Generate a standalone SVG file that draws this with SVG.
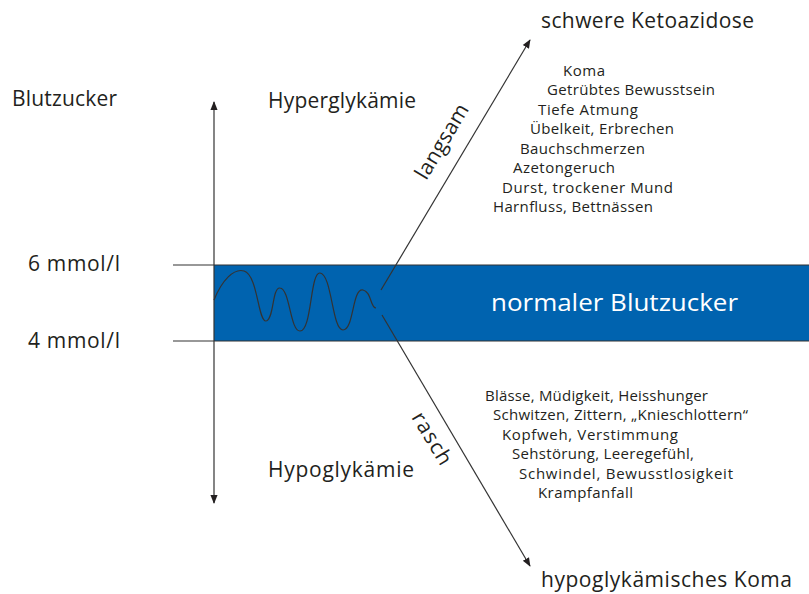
<svg xmlns="http://www.w3.org/2000/svg" width="809" height="594" viewBox="0 0 809 594">
<defs>
<style>
text{font-family:"Open Sans","Liberation Sans",sans-serif;fill:#231f20}
.big{font-size:21px}
.sym{font-size:15px}
.line{stroke:#333;stroke-width:1.2;fill:none}
</style>
<marker id="ah" viewBox="0 0 10 10" refX="9" refY="5" markerWidth="9" markerHeight="9" orient="auto-start-reverse" markerUnits="userSpaceOnUse">
<path d="M0,1 L10,5 L0,9 z" fill="#231f20"/>
</marker>
</defs>
<rect width="809" height="594" fill="#fff"/>
<g id="band">
<rect x="214" y="265" width="595" height="76" fill="#0063af"/>
<text x="491" y="311" style="font-size:24px;fill:#fff" textLength="247" lengthAdjust="spacingAndGlyphs">normaler Blutzucker</text>
</g>
<g id="connectors">
<line class="line" x1="173" y1="265" x2="809" y2="265"/>
<line class="line" x1="173" y1="341" x2="809" y2="341"/>
<line class="line" x1="214" y1="102" x2="214" y2="503" marker-start="url(#ah)" marker-end="url(#ah)"/>
<path class="line" d="M214,300 C222,280 234,268 244,271 C258,275 258,322 266,321 C274,320 272,287 280,288 C290,289 290,331 300,331 C312,331 310,272 320,273 C332,274 332,330 343,330 C354,330 352,288 363,290 C372,292 370,308 376,308"/>
<line class="line" x1="381" y1="290" x2="530" y2="40" marker-end="url(#ah)"/>
<line class="line" x1="382" y1="315" x2="530" y2="566" marker-end="url(#ah)"/>
</g>
<g id="labels">
<text class="big" x="12" y="106" textLength="105">Blutzucker</text>
<text class="big" x="28" y="271" textLength="92">6 mmol/l</text>
<text class="big" x="28" y="348" textLength="92">4 mmol/l</text>
<text class="big" x="268" y="108" textLength="148">Hyperglykämie</text>
<text class="big" x="268" y="477" textLength="146">Hypoglykämie</text>
<text class="big" text-anchor="middle" transform="translate(448,145) rotate(-59)" textLength="84">langsam</text>
<text class="big" text-anchor="middle" transform="translate(426,442) rotate(59)" textLength="58">rasch</text>
</g>
<g id="ketoazidose">
<text class="big" x="541" y="28" textLength="213">schwere Ketoazidose</text>
<text class="sym" x="563" y="76" textLength="42">Koma</text>
<text class="sym" x="547" y="95" textLength="168">Getrübtes Bewusstsein</text>
<text class="sym" x="538" y="115" textLength="100">Tiefe Atmung</text>
<text class="sym" x="530" y="134" textLength="144">Übelkeit, Erbrechen</text>
<text class="sym" x="520" y="154" textLength="125">Bauchschmerzen</text>
<text class="sym" x="513" y="173" textLength="102">Azetongeruch</text>
<text class="sym" x="502" y="193" textLength="171">Durst, trockener Mund</text>
<text class="sym" x="493" y="212" textLength="160">Harnfluss, Bettnässen</text>
</g>
<g id="koma">
<text class="big" x="541" y="587" textLength="251">hypoglykämisches Koma</text>
<text class="sym" x="485" y="401" textLength="223">Blässe, Müdigkeit, Heisshunger</text>
<text class="sym" x="493" y="420" textLength="255">Schwitzen, Zittern, „Knieschlottern“</text>
<text class="sym" x="502" y="440" textLength="176">Kopfweh, Verstimmung</text>
<text class="sym" x="512" y="459" textLength="182">Sehstörung, Leeregefühl,</text>
<text class="sym" x="519" y="479" textLength="214">Schwindel, Bewusstlosigkeit</text>
<text class="sym" x="538" y="498" textLength="95">Krampfanfall</text>
</g>
</svg>
